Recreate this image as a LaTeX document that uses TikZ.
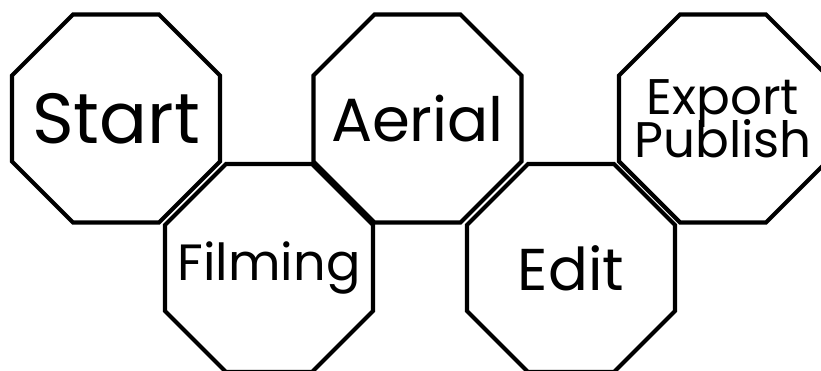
\documentclass[tikz,border=0pt]{standalone}
\usepackage{fontspec}
\setmainfont{Poppins}
\usetikzlibrary{shapes.geometric}

\begin{document}
\begin{tikzpicture}[
        x=1pt, y=1pt,
        octo/.style={regular polygon, regular polygon sides=8, draw,
          fill=white, minimum size=225pt, inner sep=0pt,
          line width=4.2pt},
        lbl/.style={font=\fontsize{#1}{#1}\selectfont, inner sep=0pt}
      ]
      % page frame
      \useasboundingbox (0, 0) rectangle (821, 371);

      % Top row
      \node [octo, label={[lbl=71]center:Start}] (s_start) at (116, 252.5) {};
      \node [octo, label={[lbl=61]center:Aerial}] (s_aerial) at (417.5, 252.5) {};
      \node [octo, label={[lbl=50, align=center]center:Export\\[-9pt]Publish}]
      (s_export) at (723, 252.5) {};

      % Bottom row
      \node [octo, label={[lbl=51]center:Filming}] (s_film) at (269, 103) {};
      \node [octo, label={[lbl=59]center:Edit}] (s_edit) at (571, 103) {};

    \end{tikzpicture}
\end{document}
